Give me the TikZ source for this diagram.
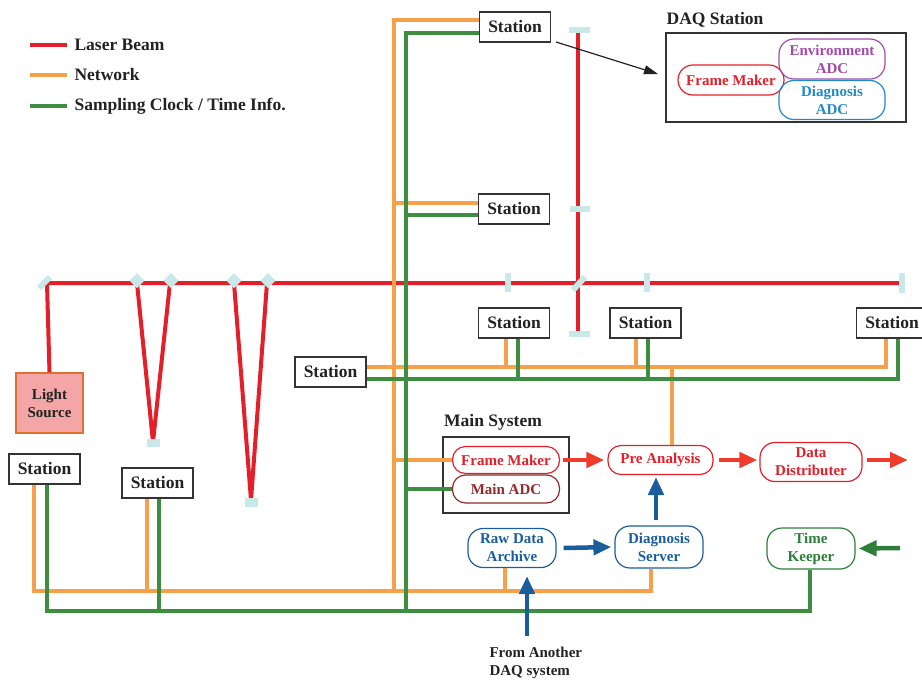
\documentclass[tikz,border=0pt]{standalone}
\usepackage{fontspec}
\setmainfont{Liberation Serif}
\usetikzlibrary{arrows.meta}
\definecolor{laser}{HTML}{E3202A}
\definecolor{netc}{HTML}{F7A04A}
\definecolor{clkc}{HTML}{3E8E41}
\definecolor{mirc}{HTML}{C9E8E8}
\definecolor{bluec}{HTML}{1B5D9C}
\definecolor{purc}{HTML}{A24BA8}
\definecolor{lbluec}{HTML}{2188CC}
\definecolor{dredc}{HTML}{8E2A2A}
\definecolor{arred}{HTML}{EE3B2C}
\definecolor{tkgreen}{HTML}{2E7D3A}
\definecolor{lsfill}{HTML}{F4A6A6}
\definecolor{lsbord}{HTML}{E07030}
\definecolor{txt}{HTML}{222222}
\begin{document}
\begin{tikzpicture}[x=1pt,y=-1pt,
  big/.style={font=\fontsize{17.5}{19}\selectfont\bfseries},
  small/.style={font=\fontsize{15}{17}\selectfont\bfseries},
  station/.style={draw=black!80, line width=1.3pt, fill=white, minimum width=71pt, minimum height=30pt, inner sep=0pt, big, text=txt},
  proc/.style={rounded corners=13pt, line width=1.2pt, fill=white, inner sep=0pt, align=center, small},
  beam/.style={laser, line width=4pt},
  net/.style={netc, line width=3.5pt},
  clk/.style={clkc, line width=3.5pt},
  mirror/.style={mirc, line width=6pt},
  bigarrow/.style={line width=4.5pt, -{Triangle[length=18pt,width=15pt]}},
  lbl/.style={big, text=txt, anchor=west},
  diam/.style={mirc}
]
\useasboundingbox (0,0) rectangle (922,681);

% ---------- legend
\coordinate (l1a) at (30,45); \coordinate (l1b) at (67,45);
\coordinate (l2a) at (30,75); \coordinate (l2b) at (67,75);
\coordinate (l3a) at (30,106); \coordinate (l3b) at (67,106);
\draw[beam] (l1a) -- (l1b);
\draw[net] (l2a) -- (l2b);
\draw[clk] (l3a) -- (l3b);
\node[lbl] (lg1) at (71,45) {Laser Beam};
\node[lbl] (lg2) at (71,75) {Network};
\node[lbl] (lg3) at (71,106) {Sampling Clock / Time Info.};

% ---------- stations
\node[station] (Stop) at (515,27) {Station};
\node[station] (Smid) at (514,209) {Station};
\node[station] (S3) at (514,323) {Station};
\node[station] (S4) at (645.5,323) {Station};
\node[station] (S5) at (892,323) {Station};
\node[station] (S6) at (330.5,372) {Station};
\node[station] (S7) at (44.5,469) {Station};
\node[station] (S8) at (157.5,483) {Station};

% ---------- light source
\node[draw=lsbord, fill=lsfill, line width=1.2pt, minimum width=67pt, minimum height=60pt, inner sep=0pt, small, align=center, text=txt] (LS) at (49.5,403) {Light\\[1pt]Source};

% ---------- laser beam
\coordinate (m0) at (47,283);
\coordinate (v1a) at (137,283); \coordinate (v1b) at (153,442); \coordinate (v1c) at (170,283);
\coordinate (v2a) at (234,283); \coordinate (v2b) at (251,500); \coordinate (v2c) at (267,283);
\coordinate (bend) at (900,283);
\draw[beam] (LS.north) -- (m0) -- (bend);
\draw[beam, line join=round] (v1a) -- (v1b) -- (v1c);
\draw[beam, line join=round] (v2a) -- (v2b) -- (v2c);
\coordinate (vt) at (578,30); \coordinate (vb) at (578,332);
\draw[beam] (vt) -- (vb);

% mirrors
\draw[mirror] (39,288) -- (50,277);
\foreach \mx in {137,171,234,268}{
  \fill[diam] (\mx,273) -- (\mx+7.5,280.5) -- (\mx,288) -- (\mx-7.5,280.5) -- cycle;
}
\fill[mirc] (146.5,439) rectangle (160,447);
\fill[mirc] (244.5,498) rectangle (258,507);
\fill[mirc] (569,27) rectangle (590,33);
\fill[mirc] (570,206) rectangle (590,212);
\fill[mirc] (569,331) rectangle (590,337);
\draw[mirror] (573,290) -- (585,277);
\fill[mirc] (505,273) rectangle (511,292);
\fill[mirc] (644,273) rectangle (650,292);
\fill[mirc] (899,273) rectangle (905,293);

% ---------- main system
\node[big, text=txt] (MStitle) at (493,422) {Main System};
\draw[black!80, line width=1.3pt] (443,437) rectangle (569,513);
\node[proc, draw=laser, text=laser, minimum width=107pt, minimum height=27pt] (FM) at (506,460) {Frame Maker};
\node[proc, draw=dredc, text=dredc, minimum width=107pt, minimum height=28pt] (MADC) at (506,489) {Main ADC};
\node[proc, draw=laser, text=laser, minimum width=105pt, minimum height=29pt] (PA) at (660.5,460) {Pre Analysis};
\node[proc, draw=laser, text=laser, minimum width=102pt, minimum height=39pt, rounded corners=15pt] (DD) at (811,462) {Data\\[1pt]Distributer};
\node[proc, draw=bluec, text=bluec, minimum width=88pt, minimum height=39pt, rounded corners=15pt] (RDA) at (512,548) {Raw Data\\[1pt]Archive};
\node[proc, draw=bluec, text=bluec, minimum width=88pt, minimum height=42pt, rounded corners=15pt] (DS) at (659,547) {Diagnosis\\[1pt]Server};
\node[proc, draw=tkgreen, text=tkgreen, minimum width=88pt, minimum height=41pt, rounded corners=15pt] (TK) at (811,548.5) {Time\\[1pt]Keeper};

% ---------- DAQ station
\node[big, text=txt] (DAQt) at (715,20) {DAQ Station};
\draw[black!80, line width=1.3pt] (666,33) rectangle (906,122);
\node[proc, fill=none, draw=laser, text=laser, minimum width=106pt, minimum height=30pt, rounded corners=15pt] (DFM) at (731,80) {Frame Maker};
\node[proc, fill=none, draw=purc, text=purc, minimum width=106pt, minimum height=40pt, rounded corners=15pt] (EADC) at (832,59) {Environment\\[1pt]ADC};
\node[proc, fill=none, draw=lbluec, text=lbluec, minimum width=106pt, minimum height=39pt, rounded corners=15pt] (DADC) at (832,100) {Diagnosis\\[1pt]ADC};
\coordinate (daqa) at (556,42);
\coordinate (daqb) at (658,74);
\draw[txt, line width=1.2pt, -{Triangle[length=14pt,width=9pt]}] (daqa) -- (daqb);

% ---------- network (orange)
\draw[net] (Stop.west |- 0,20) -- (394,20) -- (394,591);
\draw[net] (34,0 |- S7.south) -- (34,591) -- (651,591) -- (651,0 |- DS.south);
\draw[net] (147,0 |- S8.south) -- (147,591);
\draw[net] (505,0 |- RDA.south) -- (505,591);
\draw[net] (394,203) -- (Smid.west |- 0,203);
\draw[net] (S6.east |- 0,367) -- (886,367) -- (886,0 |- S5.south);
\draw[net] (506,0 |- S3.south) -- (506,367);
\draw[net] (636,0 |- S4.south) -- (636,367);
\draw[net] (672,367) -- (672,0 |- PA.north);
\draw[net] (394,460) -- (FM.west);

% ---------- clock (green)
\draw[clk] (Stop.west |- 0,33) -- (406,33) -- (406,611);
\draw[clk] (47,0 |- S7.south) -- (47,611) -- (810,611) -- (810,0 |- TK.south);
\draw[clk] (159,0 |- S8.south) -- (159,611);
\draw[clk] (406,215) -- (Smid.west |- 0,215);
\draw[clk] (S6.east |- 0,379) -- (898,379) -- (898,0 |- S5.south);
\draw[clk] (518,0 |- S3.south) -- (518,379);
\draw[clk] (648,0 |- S4.south) -- (648,379);
\draw[clk] (406,489) -- (MADC.west);

% ---------- data flow arrows
\draw[arred, bigarrow] ([xshift=3pt]FM.east) -- ([xshift=-3pt]PA.west);
\draw[arred, bigarrow] ([xshift=5pt]PA.east) -- ([xshift=-2pt]DD.west |- PA.east);
\coordinate (ddout) at (908,460);
\draw[arred, bigarrow] ([xshift=4pt]DD.east |- PA.east) -- (ddout);
\draw[bluec, bigarrow] ([xshift=7pt]RDA.east) -- ([xshift=-3pt]DS.west);
\draw[bluec, bigarrow] (656,0 |- DS.north) ++(0,-5) -- (656,477);
\coordinate (tkin) at (900,548);
\draw[tkgreen, bigarrow] (tkin) -- ([xshift=3pt]TK.east);
\coordinate (fromdaq) at (527,636);
\draw[bluec, bigarrow] (fromdaq) -- (527,576);
\node[small, text=txt, align=left, anchor=north west] (fdtxt) at (486,644) {From Another\\[1pt]DAQ system};
\end{tikzpicture}
\end{document}
